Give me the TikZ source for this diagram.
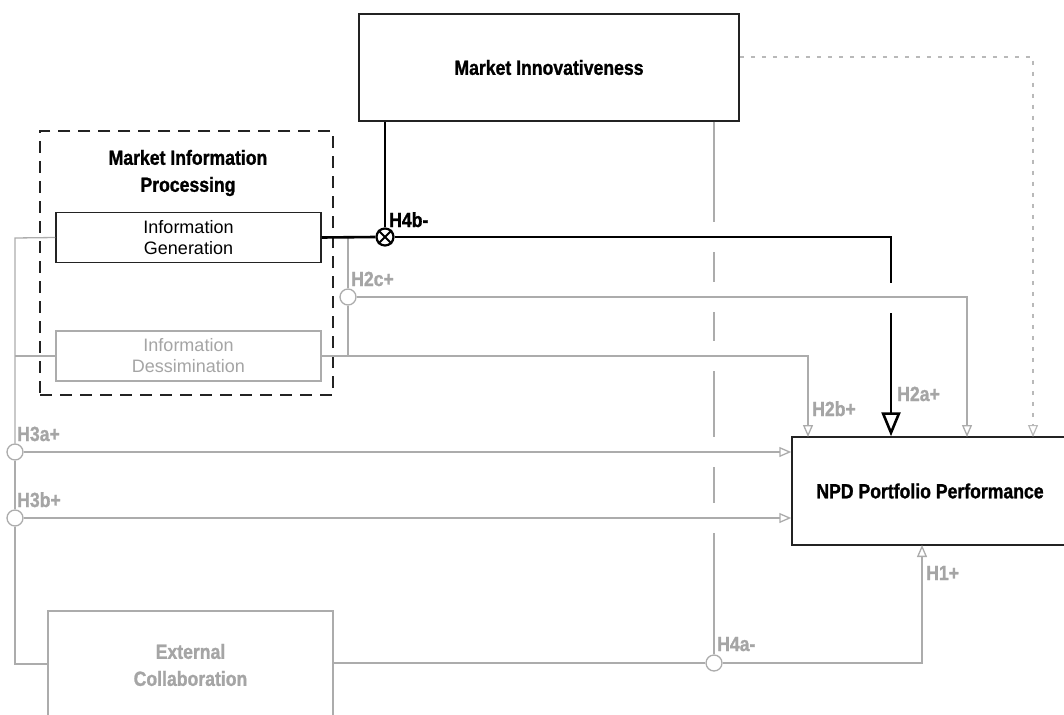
\documentclass[tikz,border=0pt]{standalone}
\usepackage{fontspec}
\setmainfont{Liberation Sans}
\newfontfamily\cbf[FakeStretch=0.86,FakeBold=1.2]{Liberation Sans Bold}
\usetikzlibrary{arrows.meta}
\definecolor{lg}{RGB}{172,172,172}
\definecolor{lt}{RGB}{165,165,165}
\definecolor{dg}{RGB}{35,35,35}
\definecolor{dotc}{RGB}{185,185,185}
\tikzset{
  every node/.style={font=\fontsize{18}{21}\selectfont},
  box/.style={draw=dg, line width=1.5pt, rectangle, inner sep=0pt, align=center, fill=white},
  gbox/.style={box, draw=lg, text=lt},
  bfont/.style={font=\fontsize{20.5}{27}\cbf},
  btitle/.style={align=center, inner sep=0pt, bfont},
  dashbox/.style={draw=dg, line width=1.5pt, dash pattern=on 12pt off 8pt},
  gline/.style={draw=lg, line width=1.3pt},
  garrow/.style={gline, -{Triangle[open,length=12pt,width=10pt]}},
  thk/.style={draw=black, line width=2.6pt},
  hcirc/.style={circle, draw=lg, fill=white, line width=1.3pt, minimum size=16pt, inner sep=0pt},
  lbl/.style={anchor=base west, inner sep=0pt, text=lt, bfont},
  blbl/.style={lbl, text=black},
}
\begin{document}
\begin{tikzpicture}[x=1pt,y=-1pt]
\useasboundingbox (0,0) rectangle (1064,714);

% boxes
\node[box, minimum width=380, minimum height=107, bfont] (mi) at (549,67.5) {Market Innovativeness};
\node[dashbox, rectangle, minimum width=293, minimum height=264, inner sep=0pt] (mip) at (186.5,263) {};
\node[btitle] (miptitle) at (188,173) {Market Information\\Processing};
\node[box, minimum width=265, minimum height=50] (ig) at (188.5,237.5) {Information\\Generation};
\node[gbox, minimum width=265, minimum height=50] (id) at (188.5,356) {Information\\Dessimination};
\node[gbox, minimum width=285, minimum height=108, bfont] (ec) at (190.5,665) {External\\Collaboration};
\node[box, minimum width=276, minimum height=108, bfont] (npd) at (930,491) {NPD Portfolio Performance};

% junction circles
\node[circle, draw=black, fill=white, line width=2.2pt, minimum size=17pt, inner sep=0pt] (h4b) at (385,237) {};
\draw[black, line width=1.8pt] (h4b.north west) -- (h4b.south east) (h4b.north east) -- (h4b.south west);
\node[hcirc] (h2c) at (348,297) {};
\node[hcirc] (h3a) at (15,452) {};
\node[hcirc] (h3b) at (15,518) {};
\node[hcirc] (h4a) at (714,663) {};

\coordinate (spineTop) at (15,238);
\coordinate (spineBot) at (15,664);
\coordinate (h2aTop) at (891,283);
\coordinate (h2aBot) at (891,313);

% left spine
\draw[gline] (ig.west) -- (spineTop) -- (h3a.north);
\draw[gline] (h3a.south) -- (h3b.north);
\draw[gline] (h3b.south) -- (spineBot) -- (ec.west |- spineBot);
\draw[gline] (id.west) -- (id.west -| spineTop);

% H3a, H3b
\draw[garrow] (h3a.east) -- (npd.west |- h3a);
\draw[garrow] (h3b.east) -- (npd.west |- h3b);

% H2c vertical and arrow
\draw[gline] (348,238) -- (h2c.north);
\draw[gline] (h2c.south) -- (348,356);
\draw[garrow] (h2c.east) -- (967,297) -- (967,437);

% H2b
\draw[garrow] (id.east) -- (808,356) -- (808,437);

% H1 and H4a
\draw[gline] (ec.east |- h4a) -- (h4a.west);
\draw[garrow] (h4a.east) -- (922,663) -- (922,545);

% Market innovativeness thin grey vertical with gaps
\draw[gline] (mi.south -| h4a) -- (714,222)
  (714,252) -- (714,282)
  (714,312) -- (714,341)
  (714,371) -- (714,437)
  (714,467) -- (714,503)
  (714,533) -- (h4a.north);

% dotted
\draw[draw=dotc, line width=1.2pt, dash pattern=on 4pt off 7pt, -{Triangle[open,length=12pt,width=10pt]}] (mi.east |- 0,57) -- (1033,57) -- (1033,437);

% thick black H4b / H2a
\draw[thk] (mi.south -| h4b) -- (h4b.north);
\draw[thk] (ig.east) -- (h4b.west);
\draw[thk] (h4b.east) -- (891,237) -- (h2aTop);
\draw[thk, -{Triangle[open,length=24pt,width=19pt]}] (h2aBot) -- (npd.north -| h2aBot);

% labels
\node[blbl] at (389,227) {H4b-};
\node[lbl] at (351,286) {H2c+};
\node[lbl] at (812,416) {H2b+};
\node[lbl] at (897,401) {H2a+};
\node[lbl] at (17,441) {H3a+};
\node[lbl] at (17,507) {H3b+};
\node[lbl] at (717,651) {H4a-};
\node[lbl] at (926,580) {H1+};
\end{tikzpicture}
\end{document}
